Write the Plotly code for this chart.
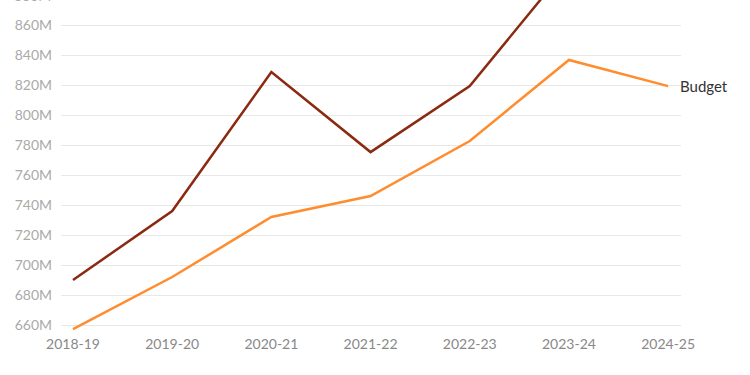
import plotly.graph_objects as go

years = ["2018-19", "2019-20", "2020-21", "2021-22", "2022-23", "2023-24", "2024-25"]
actual = [690, 736, 828.7, 775.3, 819.3, 900]
budget = [657.3, 692, 732, 746, 782.7, 836.7, 819.3]
y_ticks = [660, 680, 700, 720, 740, 760, 780, 800, 820, 840, 860, 880]
y_range = [654, 876.7]

fig = go.Figure()
fig.add_trace(go.Scatter(x=years[:len(actual)], y=actual, mode="lines",
                         line=dict(color="#8A2A10", width=2.5), name="Actual"))
fig.add_trace(go.Scatter(x=years, y=budget, mode="lines",
                         line=dict(color="#FF8C2E", width=2.5), name="Budget"))

fig.add_annotation(x=years[-1], y=budget[-1], xref="x", yref="y", text="Budget",
                   showarrow=False, xanchor="left", xshift=10,
                   font=dict(family="Lato", size=15, color="#333333"))

# tick label partially visible above the top of the plot
for t in y_ticks:
    if t > y_range[1]:
        fig.add_annotation(x=0, xref="paper", xanchor="right", xshift=-8,
                           y=(t - y_range[0]) / (y_range[1] - y_range[0]), yref="paper",
                           text=f"{t}M", showarrow=False, yanchor="middle",
                           font=dict(family="Lato", size=14, color="#AAAAAA"))

fig.update_layout(
    width=750, height=375,
    margin=dict(l=61, r=69, t=0, b=41),
    plot_bgcolor="white", paper_bgcolor="white",
    showlegend=False,
    font=dict(family="Lato"),
)
fig.update_xaxes(type="category", range=[-0.121, 6.13], showgrid=False, zeroline=False,
                 showline=False, ticks="", tickfont=dict(size=14, color="#888888"))
fig.update_yaxes(range=y_range, tickvals=y_ticks, ticktext=[f"{t}M" for t in y_ticks],
                 showgrid=True, gridcolor="#E8E8E8", gridwidth=1, zeroline=False,
                 showline=False, ticks="", ticklabelstandoff=8,
                 tickfont=dict(size=14, color="#AAAAAA"))

fig.write_html("out.html")
